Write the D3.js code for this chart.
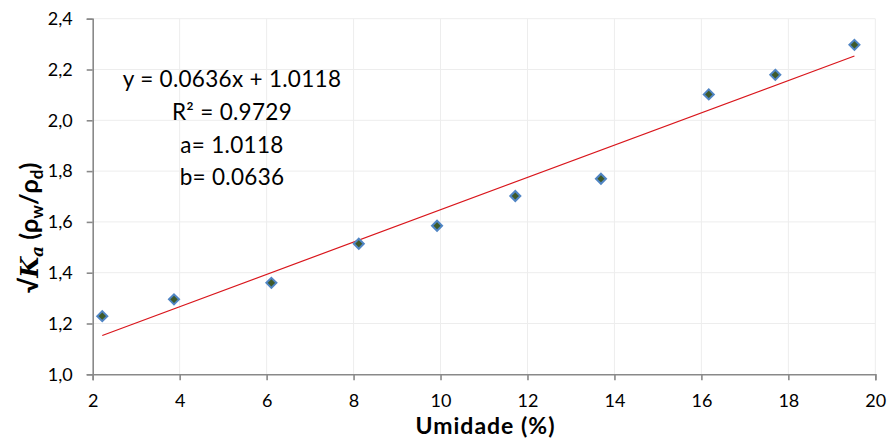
<!DOCTYPE html>
<html>
<head>
<meta charset="utf-8">
<script src="https://cdn.jsdelivr.net/npm/d3@7"></script>
<style>
  html, body { margin: 0; padding: 0; background: #fff; }
  svg { display: block; font-family: Lato, "Open Sans", sans-serif; }
</style>
</head>
<body>
<svg id="chart" width="891" height="442"></svg>
<script>
// Moisture content (%) and measured sqrt(Ka) * (rho_w / rho_d)
const umidade = [2.22, 3.87, 6.11, 8.12, 9.92, 11.72, 13.69, 16.17, 17.70, 19.52];
const raizKa  = [1.229, 1.295, 1.360, 1.514, 1.585, 1.702, 1.770, 2.102, 2.179, 2.297];

// Linear fit coefficients
const coefA = 1.0118;
const coefB = 0.0636;
const equationLines = ["y = 0.0636x + 1.0118", "R\u00b2 = 0.9729", "a= 1.0118", "b= 0.0636"];

const xTicks = [2, 4, 6, 8, 10, 12, 14, 16, 18, 20];
const yTicks = [1.0, 1.2, 1.4, 1.6, 1.8, 2.0, 2.2, 2.4];

const svg = d3.select("#chart");

const x = d3.scaleLinear().domain([2, 20]).range([92.7, 875.3]);
const y = d3.scaleLinear().domain([1.0, 2.4]).range([374.3, 18.7]);

const fmt = d => d3.format(".1f")(d).replace(".", ",");

// gridlines
svg.append("g").selectAll("line").data(xTicks.slice(1)).join("line")
  .attr("x1", d => x(d)).attr("x2", d => x(d))
  .attr("y1", y(1.0)).attr("y2", y(2.4))
  .attr("stroke", "#ededed").attr("stroke-width", 1);
svg.append("g").selectAll("line").data(yTicks.slice(1)).join("line")
  .attr("x1", x(2)).attr("x2", x(20))
  .attr("y1", d => y(d)).attr("y2", d => y(d))
  .attr("stroke", "#ededed").attr("stroke-width", 1);

// axes
const xAxis = svg.append("g")
  .attr("transform", `translate(0,${y(1.0)})`)
  .call(d3.axisBottom(x).tickValues(xTicks).tickSize(6).tickPadding(14).tickFormat(d3.format("d")));
const yAxis = svg.append("g")
  .attr("transform", `translate(${x(2)},0)`)
  .call(d3.axisLeft(y).tickValues(yTicks).tickSize(6).tickPadding(14).tickFormat(fmt));

[xAxis, yAxis].forEach(g => {
  g.select(".domain").attr("stroke", "#898989").attr("stroke-width", 1.6);
  g.selectAll(".tick line").attr("stroke", "#898989").attr("stroke-width", 1.6);
  g.selectAll(".tick text").attr("fill", "#000").style("font-size", "18px")
    .style("font-family", "Lato, 'Open Sans', sans-serif");
});

// trend line over the data range
const x0 = d3.min(umidade), x1 = d3.max(umidade);
svg.append("line")
  .attr("x1", x(x0)).attr("y1", y(coefA + coefB * x0))
  .attr("x2", x(x1)).attr("y2", y(coefA + coefB * x1))
  .attr("stroke", "#d9161c").attr("stroke-width", 1.2);

// data markers
const diamond = d3.symbol().type(d3.symbolDiamond2).size(64);
svg.append("g").selectAll("path").data(umidade).join("path")
  .attr("transform", (d, i) => `translate(${x(d)},${y(raizKa[i])})`)
  .attr("d", diamond)
  .attr("fill", "#3f5a2a")
  .attr("stroke", "#5085c4").attr("stroke-width", 2);

// regression annotation
const eq = svg.append("text").attr("text-anchor", "middle")
  .style("font-size", "22.5px").style("letter-spacing", "0.3px").attr("fill", "#000");
const eqBase = [87, 120, 153, 185];
equationLines.forEach((t, i) => {
  eq.append("tspan").attr("x", 232).attr("y", eqBase[i]).text(t);
});

// axis titles
svg.append("text")
  .attr("x", 485.5).attr("y", 434)
  .attr("text-anchor", "middle")
  .style("font-size", "23px").style("font-weight", "bold").style("letter-spacing", "1px")
  .text("Umidade (%)");

const yt = svg.append("text")
  .attr("transform", "translate(38,228) rotate(-90)")
  .attr("text-anchor", "middle")
  .style("font-size", "25px").style("font-weight", "bold");
yt.append("tspan").text("\u221a");
yt.append("tspan").style("font-style", "italic").style("font-family", "'DejaVu Serif', serif").style("font-size", "24px").text("K");
yt.append("tspan").style("font-style", "italic").style("font-family", "'DejaVu Serif', serif").style("font-size", "17px").attr("dy", 5).text("a");
yt.append("tspan").attr("dy", -5).text(" (\u03c1");
yt.append("tspan").style("font-size", "17px").attr("dy", 5).text("w");
yt.append("tspan").attr("dy", -5).text("/\u03c1");
yt.append("tspan").style("font-size", "17px").attr("dy", 5).text("d");
yt.append("tspan").attr("dy", -5).text(")");
</script>
</body>
</html>
